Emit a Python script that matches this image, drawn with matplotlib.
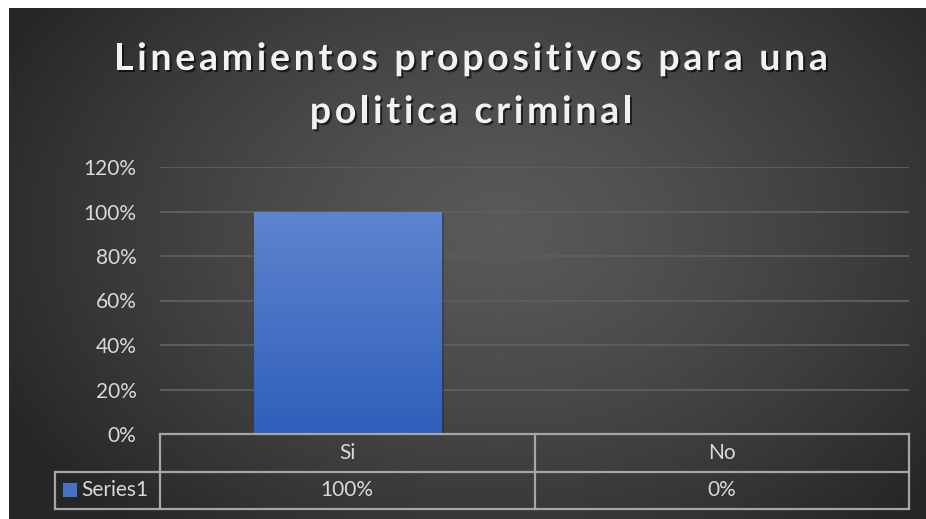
import numpy as np
import matplotlib.pyplot as plt
import matplotlib.patheffects as pe
from matplotlib import font_manager
from matplotlib.font_manager import FontProperties
from matplotlib.ft2font import FT2Font
from matplotlib.ticker import PercentFormatter

# data
categories = ["Si", "No"]
values = [1.00, 0.00]
series_name = "Series1"
title_lines = ["Lineamientos propositivos para una", "politica criminal"]

W, H = 926, 519
DPI = 100
FONT = "Lato"
TXT = "#d9d9d9"
GRID = "#5c5c5c"
BORDER = "#a6a6a6"
LSIZE = 15

fig = plt.figure(figsize=(W / DPI, H / DPI), dpi=DPI, facecolor="white")


def fx(px):
    return px / W


def fy(py):
    return 1 - py / H


# background: dark radial gradient
bg = fig.add_axes([fx(9), 0, fx(W - 9), 1 - 8 / H], zorder=-10)
yy, xx = np.mgrid[8:H, 9:W]
r = np.sqrt(((xx - 500) / 560.0) ** 2 + ((yy - 230) / 400.0) ** 2)
shade = 0.35 - 0.20 * np.clip(r, 0, 1) ** 1.3
bg.imshow(np.dstack([shade] * 3), aspect="auto", interpolation="bilinear")
bg.axis("off")

# plot area
left, right, top, bottom = 160, 909, 167, 434
ax = fig.add_axes([fx(left), fy(bottom), fx(right - left), (bottom - top) / H])
ax.set_facecolor("none")
x = np.arange(len(categories))
ax.set_xlim(-0.5, len(categories) - 0.5)
ax.set_ylim(0, 1.2)
ax.set_yticks(np.arange(0, 1.21, 0.2))
ax.yaxis.set_major_formatter(PercentFormatter(1.0, decimals=0))
ax.set_xticks([])
ax.tick_params(axis="y", length=0, pad=17, labelcolor=TXT, labelsize=LSIZE)
for lab in ax.get_yticklabels():
    lab.set_fontfamily(FONT)
ax.grid(axis="y", color=GRID, lw=1.5)
ax.set_axisbelow(True)
for s in ax.spines.values():
    s.set_visible(False)

bars = ax.bar(x, values, width=0.5, color="none", zorder=3)
grad = np.linspace(0, 1, 256).reshape(-1, 1)
c_top = np.array([0x5f, 0x84, 0xcf]) / 255
c_bot = np.array([0x2e, 0x5f, 0xbb]) / 255
img = c_bot + (c_top - c_bot) * grad[..., None]
for b in bars:
    if b.get_height() <= 0:
        continue
    bx, by = b.get_x(), b.get_y()
    im = ax.imshow(img, extent=[bx, bx + b.get_width(), by, by + b.get_height()],
                   origin="lower", aspect="auto", zorder=3)
    im.set_clip_path(b)
    b.set_path_effects([pe.SimplePatchShadow(offset=(2, -1), shadow_rgbFace="black", alpha=0.18)])
    b.set_facecolor(c_bot)
ax.set_xlim(-0.5, len(categories) - 0.5)
ax.set_ylim(0, 1.2)

# data table under the plot
row1, row2 = 472, 509
key_left = 55
lkw = dict(color=BORDER, lw=1.6, transform=fig.transFigure, zorder=5)
fig.add_artist(plt.Line2D([fx(left), fx(right)], [fy(bottom), fy(bottom)], **lkw))
fig.add_artist(plt.Line2D([fx(key_left), fx(right)], [fy(row1), fy(row1)], **lkw))
fig.add_artist(plt.Line2D([fx(key_left), fx(right)], [fy(row2), fy(row2)], **lkw))
fig.add_artist(plt.Line2D([fx(key_left), fx(key_left)], [fy(row1), fy(row2)], **lkw))
col_w = (right - left) / len(categories)
for i in range(len(categories) + 1):
    xp = left + i * col_w
    fig.add_artist(plt.Line2D([fx(xp), fx(xp)], [fy(bottom), fy(row2)], **lkw))

tkw = dict(color=TXT, fontsize=LSIZE, family=FONT, ha="center", va="center")
for i, (cat, v) in enumerate(zip(categories, values)):
    xc = left + (i + 0.5) * col_w
    fig.text(fx(xc), fy((bottom + row1) / 2), cat, **tkw)
    fig.text(fx(xc), fy((row1 + row2) / 2), f"{v:.0%}", **tkw)
fig.add_artist(plt.Rectangle((fx(63), fy(497)), fx(14), 14 / H, transform=fig.transFigure,
                             facecolor="#4472c4", edgecolor="none"))
fig.text(fx(81), fy((row1 + row2) / 2), series_name, color=TXT, fontsize=LSIZE,
         family=FONT, ha="left", va="center")

# title with letter spacing, placed glyph by glyph
tprop = FontProperties(family=FONT, weight="bold")
ft = FT2Font(font_manager.findfont(tprop))
tsize = 27
ft.set_size(tsize, DPI)


def advances(s):
    return [ft.load_char(ord(c)).linearHoriAdvance / 65536.0 for c in s]


adv0 = advances(title_lines[0])
spacing = (712 - sum(adv0[:-1]) - adv0[-1] * 0.9) / (len(title_lines[0]) - 1)
shadow = [pe.SimplePatchShadow(offset=(1.5, -1.5), shadow_rgbFace="black", alpha=0.6), pe.Normal()]
for line, base in zip(title_lines, [70, 123]):
    adv = advances(line)
    total = sum(adv) + spacing * (len(line) - 1)
    xp = W / 2 + 8 - total / 2
    for c, a in zip(line, adv):
        if c != " ":
            fig.text(fx(xp), fy(base), c, fontproperties=tprop, fontsize=tsize,
                     color="#f2f2f2", ha="left", va="baseline", path_effects=shadow)
        xp += a + spacing

fig.savefig("out.png", dpi=DPI, facecolor="white")
